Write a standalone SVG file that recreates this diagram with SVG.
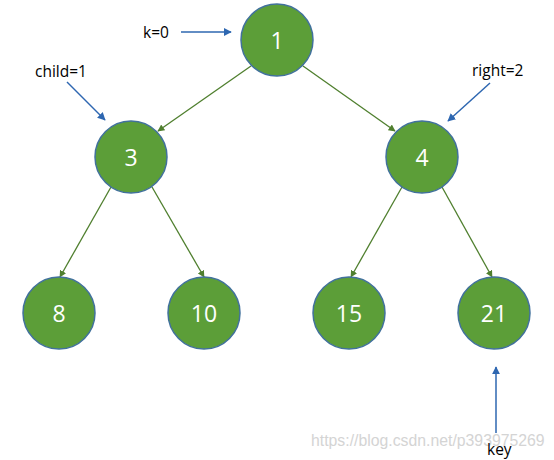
<svg xmlns="http://www.w3.org/2000/svg" width="554" height="460" viewBox="0 0 554 460">
<style>
.node circle{fill:#5c9e38;stroke:#41719c;stroke-width:1.5}
.node text{fill:#fff;font-family:"Open Sans","Noto Sans",sans-serif;font-size:23px;text-anchor:middle;dominant-baseline:central}
.edge{stroke:#4f7f2e;stroke-width:1.3;fill:none;marker-end:url(#ga)}
.ptr{stroke:#2e67b1;stroke-width:1.5;fill:none;marker-end:url(#ba)}
.lbl{fill:#000;font-family:"Open Sans","Noto Sans",sans-serif;font-size:15.5px;dominant-baseline:central}
.wm{fill:#d4d4d4;font-family:"Liberation Sans",Arial,sans-serif;font-size:15.8px;dominant-baseline:central}
</style>
<defs>
<marker id="ga" viewBox="0 0 10 10" refX="9" refY="5" markerWidth="7" markerHeight="7" orient="auto" markerUnits="userSpaceOnUse"><path d="M0,0 L10,5 L0,10 z" fill="#4f7f2e"/></marker>
<marker id="ba" viewBox="0 0 10 10" refX="9" refY="5" markerWidth="8" markerHeight="8" orient="auto" markerUnits="userSpaceOnUse"><path d="M0,0 L10,5 L0,10 z" fill="#2e67b1"/></marker>
</defs>
<rect width="554" height="460" fill="#fff"/>
<g id="connectors">
<line class="edge" x1="251" y1="66" x2="158" y2="131"/>
<line class="edge" x1="303" y1="66" x2="395" y2="131"/>
<line class="edge" x1="111" y1="187" x2="60" y2="277"/>
<line class="edge" x1="152" y1="187" x2="204" y2="277"/>
<line class="edge" x1="402" y1="187" x2="351" y2="277"/>
<line class="edge" x1="442" y1="187" x2="492" y2="277"/>
<line class="ptr" x1="181" y1="32" x2="231" y2="32"/>
<line class="ptr" x1="67" y1="82" x2="105" y2="120"/>
<line class="ptr" x1="490" y1="83" x2="448" y2="121"/>
<line class="ptr" x1="496" y1="433" x2="496" y2="367"/>
</g>
<g id="n1" class="node"><circle cx="277" cy="40" r="36"/><text x="277" y="40">1</text></g>
<g id="n3" class="node"><circle cx="131" cy="157" r="36"/><text x="131" y="157">3</text></g>
<g id="n4" class="node"><circle cx="422" cy="157" r="36"/><text x="422" y="157">4</text></g>
<g id="n8" class="node"><circle cx="59" cy="313" r="36"/><text x="59" y="313">8</text></g>
<g id="n10" class="node"><circle cx="204" cy="313" r="36"/><text x="204" y="313">10</text></g>
<g id="n15" class="node"><circle cx="349" cy="313" r="36"/><text x="349" y="313">15</text></g>
<g id="n21" class="node"><circle cx="494" cy="313" r="36"/><text x="494" y="313">21</text></g>
<g id="labels">
<text class="lbl" x="143" y="32">k=0</text>
<text class="lbl" x="35" y="71">child=1</text>
<text class="lbl" x="472" y="70">right=2</text>
<text class="wm" x="311" y="440">https://blog.csdn.net/p393975269</text>
<text class="lbl" x="487" y="449">key</text>
</g>
</svg>
